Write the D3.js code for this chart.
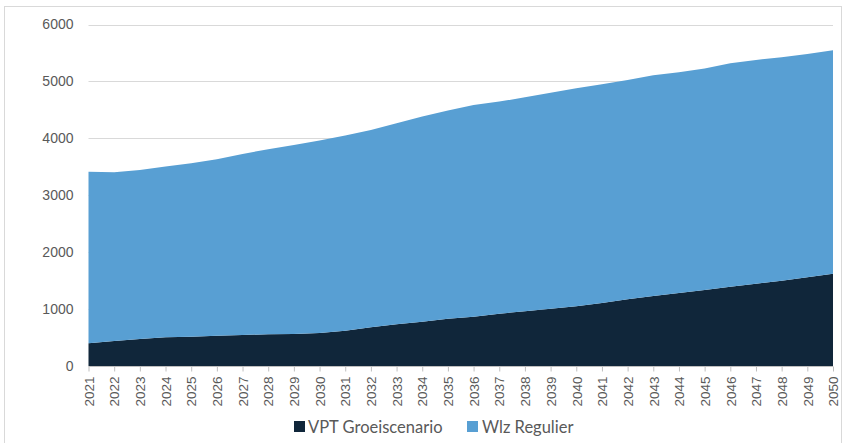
<!DOCTYPE html>
<html>
<head>
<meta charset="utf-8">
<script src="https://cdn.jsdelivr.net/npm/d3@7"></script>
<style>
  html, body { margin: 0; padding: 0; background: #fff; }
  svg { display: block; font-family: "Lato", "Open Sans", sans-serif; }
</style>
</head>
<body>
<svg id="chart" width="842" height="443"></svg>
<script>
// Years on the category axis
const years = d3.range(2021, 2051);

// Series values per year
const vptGroeiscenario = [400, 440, 475, 504, 515, 533, 545, 557, 562, 580,
  618, 680, 733, 779, 832, 867, 920, 961, 1007, 1049,
  1108, 1172, 1230, 1283, 1336, 1394, 1447, 1499, 1558, 1620];
const wlzRegulier = [3015, 2965, 2970, 3000, 3047, 3099, 3181, 3251, 3322, 3380,
  3432, 3468, 3532, 3603, 3655, 3720, 3725, 3761, 3796, 3831,
  3842, 3854, 3878, 3877, 3889, 3925, 3931, 3926, 3925, 3928];

// Value axis ticks
const yTicks = [0, 1000, 2000, 3000, 4000, 5000, 6000];

const seriesNames = ["VPT Groeiscenario", "Wlz Regulier"];
const seriesColors = ["#10263a", "#589fd3"];

const rows = years.map((y, i) => ({
  year: y,
  "VPT Groeiscenario": vptGroeiscenario[i],
  "Wlz Regulier": wlzRegulier[i]
}));

const svg = d3.select("#chart");
const W = 842, H = 443;
const margin = { left: 88.5, right: 9, top: 24.5, bottom: 77 };

// Outer frame
svg.append("rect")
  .attr("x", 4.5).attr("y", 6.5)
  .attr("width", W - 5).attr("height", H - 6)
  .attr("fill", "none").attr("stroke", "#d9d9d9").attr("stroke-width", 1);

const x = d3.scaleLinear()
  .domain([years[0], years[years.length - 1]])
  .range([margin.left, W - margin.right]);
const y = d3.scaleLinear()
  .domain([0, 6000])
  .range([H - margin.bottom, margin.top]);

// Horizontal gridlines
svg.append("g")
  .selectAll("line")
  .data(yTicks.filter(d => d > 0))
  .join("line")
  .attr("x1", x.range()[0]).attr("x2", x.range()[1])
  .attr("y1", d => Math.round(y(d)) + 0.5).attr("y2", d => Math.round(y(d)) + 0.5)
  .attr("stroke", "#d9d9d9").attr("stroke-width", 1);

// Stacked areas
const stack = d3.stack().keys(seriesNames);
const layers = stack(rows);
const area = d3.area()
  .x(d => x(d.data.year))
  .y0(d => y(d[0]))
  .y1(d => y(d[1]));

svg.append("g")
  .selectAll("path")
  .data(layers)
  .join("path")
  .attr("d", area)
  .attr("fill", (d, i) => seriesColors[i]);

// Value axis labels
const yAxis = d3.axisLeft(y).tickValues(yTicks).tickSize(0).tickPadding(15).tickFormat(d3.format("d"));
const gy = svg.append("g")
  .attr("transform", `translate(${x.range()[0]},0)`)
  .call(yAxis);
gy.select(".domain").remove();
gy.selectAll("text")
  .attr("fill", "#595959")
  .style("font-size", "14px");

// Category axis
const xAxis = d3.axisBottom(x).tickValues(years).tickSize(5).tickFormat(d3.format("d"));
const gx = svg.append("g")
  .attr("transform", `translate(0,${Math.round(y(0)) + 0.5})`)
  .call(xAxis);
gx.select(".domain").attr("stroke", "#bfbfbf").attr("d", `M${x.range()[0]},0H${x.range()[1]}`);
gx.selectAll(".tick line").attr("stroke", "#bfbfbf");
gx.selectAll("text")
  .attr("fill", "#595959")
  .style("font-size", "13.5px")
  .attr("text-anchor", "end")
  .attr("transform", "rotate(-90)")
  .attr("x", -10)
  .attr("y", 0)
  .attr("dy", "0.35em");

// Legend
const legendItems = [
  { name: seriesNames[0], color: seriesColors[0], sx: 294, tx: 308 },
  { name: seriesNames[1], color: seriesColors[1], sx: 467, tx: 482 }
];
const lg = svg.append("g");
lg.selectAll("rect")
  .data(legendItems)
  .join("rect")
  .attr("x", d => d.sx).attr("y", 421)
  .attr("width", 11).attr("height", 11)
  .attr("fill", d => d.color);
lg.selectAll("text")
  .data(legendItems)
  .join("text")
  .attr("x", d => d.tx).attr("y", 427)
  .attr("dy", "0.35em")
  .attr("fill", "#595959")
  .style("font-size", "16.5px")
  .text(d => d.name);
</script>
</body>
</html>
